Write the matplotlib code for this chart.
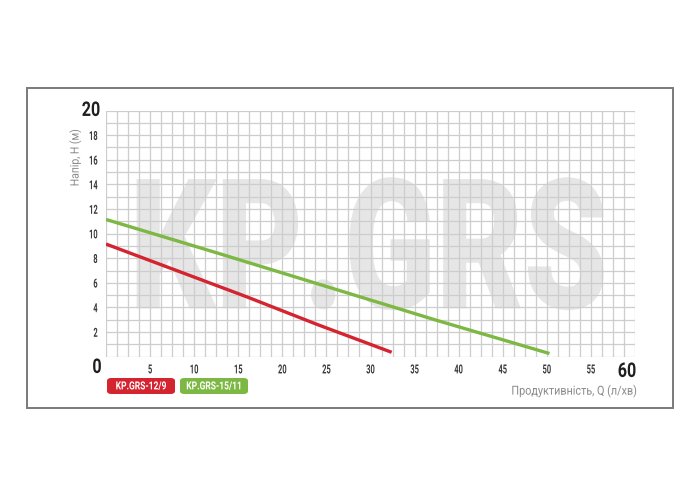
import numpy as np
import matplotlib
matplotlib.use('Agg')
import matplotlib.pyplot as plt
from matplotlib.patches import Rectangle, FancyBboxPatch
from matplotlib.patheffects import AbstractPathEffect
from matplotlib.transforms import Affine2D

# data
q_129 = [0, 8, 16, 24, 32.4]
h_129 = [9.15, 7.0, 4.85, 2.6, 0.35]
q_1511 = [0, 12.5, 25, 37.5, 50.3]
h_1511 = [11.15, 8.45, 5.7, 2.95, 0.25]
x_ticks = [5, 10, 15, 20, 25, 30, 35, 40, 45, 50, 55]
y_ticks = [2, 4, 6, 8, 10, 12, 14, 16, 18]
names = ['KP.GRS-12/9', 'KP.GRS-15/11']
colors = ['#d42430', '#7cb843']

plt.rcParams['font.family'] = ['Roboto', 'DejaVu Sans']


class Stretch(AbstractPathEffect):
    # stretch the drawn glyphs to fake a condensed face (none installed)
    def __init__(self, sx=1.0, sy=1.0, anchor='center'):
        super().__init__()
        self.sx, self.sy, self.anchor = sx, sy, anchor

    def draw_path(self, renderer, gc, tpath, affine, rgbFace=None):
        ext = tpath.transformed(affine).get_extents()
        if self.anchor == 'right':
            cx = ext.x1
        elif self.anchor == 'left':
            cx = ext.x0
        else:
            cx = (ext.x0 + ext.x1) / 2
        cy = (ext.y0 + ext.y1) / 2
        t = affine + Affine2D().translate(-cx, -cy).scale(self.sx, self.sy).translate(cx, cy)
        renderer.draw_path(gc, tpath, t, rgbFace)


W, H = 700, 500
fig = plt.figure(figsize=(7, 5), dpi=100)

def fx(px):
    return px / W

def fy(py):
    return 1 - py / H

# outer frame
fig.patches.append(Rectangle((fx(27), fy(408)), fx(673) - fx(27), fy(88) - fy(408),
                             transform=fig.transFigure, fill=False,
                             edgecolor='#7a7a7a', lw=1.4))

ax = fig.add_axes([fx(106), fy(356.6), fx(635) - fx(106), fy(110.6) - fy(356.6)])
ax.set_xlim(0, 60)
ax.set_ylim(0, 20)
for s in ax.spines.values():
    s.set_visible(False)

ax.set_xticks(x_ticks)
ax.set_yticks(y_ticks)
ax.set_xticks(np.arange(0, 60.01, 1.25), minor=True)
ax.set_yticks(np.arange(0, 20.01, 1), minor=True)
ax.grid(which='both', color='#cdcdcd', lw=0.9, zorder=1)
ax.set_axisbelow(True)
ax.tick_params(which='both', length=0)
ax.tick_params(axis='x', pad=6.5)
ax.tick_params(axis='y', pad=6)
for lab in ax.get_xticklabels() + ax.get_yticklabels():
    lab.set(fontsize=5.4, fontweight='bold', color='#3a3a3a',
            path_effects=[Stretch(1.0, 1.67)])

# watermark
ax.text(29.8, 8.25, 'KP.GRS', fontsize=97, fontweight='heavy',
        color='#e6e6e6', ha='center', va='center', zorder=0,
        path_effects=[Stretch(1.0, 1.35)])

ax.plot(q_129, h_129, color=colors[0], lw=2.4, zorder=3, solid_capstyle='butt')
ax.plot(q_1511, h_1511, color=colors[1], lw=2.4, zorder=3, solid_capstyle='butt')

big = dict(fontsize=11.6, fontweight='bold', color='#1e1e1e',
           path_effects=[Stretch(1.0, 1.25)])
fig.text(fx(91), fy(110), '20', ha='center', va='center', **big)
fig.text(fx(97), fy(367), '0', ha='center', va='center', **big)
fig.text(fx(627), fy(371), '60', ha='center', va='center', **big)

fig.text(fx(75), fy(158), 'Напір, Н (м)', rotation=90, ha='center', va='center',
         fontsize=7.5, color='#8a8a8a', path_effects=[Stretch(1.13, 1.0)])
fig.text(fx(638), fy(391), 'Продуктивність, Q (л/хв)', ha='right', va='center',
         fontsize=7.8, color='#8a8a8a', path_effects=[Stretch(1.0, 1.15)])

# legend boxes
for i, (nm, c) in enumerate(zip(names, colors)):
    left = 107 + i * 73
    fig.patches.append(FancyBboxPatch((fx(left), fy(394)), fx(68), fy(378) - fy(394),
                                      boxstyle='round,pad=0,rounding_size=0.006',
                                      transform=fig.transFigure, facecolor=c,
                                      edgecolor='none'))
    fig.text(fx(left + 34), fy(386), nm, ha='center', va='center', fontsize=6.1,
             fontweight='bold', color='white', path_effects=[Stretch(1.0, 1.31)])

fig.savefig('out.png', dpi=100)
